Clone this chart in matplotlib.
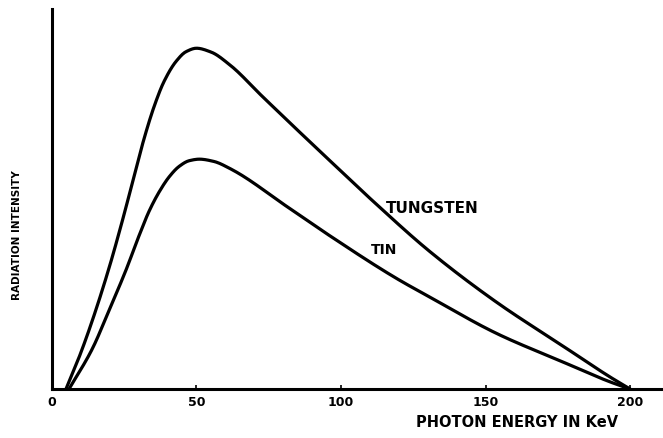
import matplotlib
matplotlib.use("Agg")
import matplotlib.pyplot as plt
import numpy as np

energy_w = [4.85, 9.4, 13.9, 19.8, 24.6, 28.4, 31.9, 35.4, 38.8, 43, 46.4, 50, 55, 61.4, 72.8, 84.6, 96, 111, 130.7, 153.9, 176.8, 193, 200]
tungsten = [0, 8.4, 17.9, 32.0, 45.0, 56.0, 66.0, 74.5, 81.0, 86.3, 88.8, 89.7, 88.7, 85.4, 77.0, 68.4, 60.2, 49.5, 36.2, 22.8, 11.3, 3.2, 0]

energy_t = [5.9, 13.9, 19.8, 25.6, 30.2, 33.6, 37.1, 40.6, 44, 47.5, 51, 56, 61.4, 82.1, 96.2, 119, 130.7, 153.9, 176.8, 193, 200]
tin = [0, 10.5, 20.8, 31.3, 40.5, 46.8, 51.9, 55.9, 58.6, 60.1, 60.5, 59.9, 58.1, 47.6, 40.3, 29.2, 24.2, 14.6, 7.1, 1.9, 0]

xticks = [0, 50, 100, 150, 200]
xticklabels = ["0", "50", "100", "150", "200"]


def smooth(x, y, n=500):
    x = np.asarray(x, float)
    y = np.asarray(y, float)
    h = np.diff(x)
    d = np.diff(y) / h
    m = np.zeros_like(y)
    m[0] = d[0]
    m[-1] = d[-1]
    for i in range(1, len(x) - 1):
        if d[i - 1] * d[i] <= 0:
            m[i] = 0
        else:
            w1 = 2 * h[i] + h[i - 1]
            w2 = h[i] + 2 * h[i - 1]
            m[i] = (w1 + w2) / (w1 / d[i - 1] + w2 / d[i])
    xs = np.linspace(x[0], x[-1], n)
    ys = np.empty_like(xs)
    for j, xv in enumerate(xs):
        i = min(max(np.searchsorted(x, xv) - 1, 0), len(x) - 2)
        t = (xv - x[i]) / h[i]
        h00 = 2 * t**3 - 3 * t**2 + 1
        h10 = t**3 - 2 * t**2 + t
        h01 = -2 * t**3 + 3 * t**2
        h11 = t**3 - t**2
        ys[j] = h00 * y[i] + h10 * h[i] * m[i] + h01 * y[i + 1] + h11 * h[i] * m[i + 1]
    return xs, ys


fig = plt.figure(figsize=(6.63, 4.39), dpi=100)
ax = fig.add_axes([0.0784, 0.1116, 0.9216, 0.8654])

xw, yw = smooth(energy_w, tungsten)
xt, yt = smooth(energy_t, tin)
ax.plot(xw, yw, color="black", lw=2.3, solid_capstyle="round")
ax.plot(xt, yt, color="black", lw=2.3, solid_capstyle="round")

ax.set_xlim(0, 211.4)
ax.set_ylim(0, 100)

for s in ["top", "right"]:
    ax.spines[s].set_visible(False)
ax.spines["left"].set_linewidth(2.2)
ax.spines["bottom"].set_linewidth(2.2)

ax.set_yticks([])
ax.set_xticks(xticks)
ax.set_xticklabels(xticklabels, fontsize=9, fontweight="bold")
ax.tick_params(axis="x", direction="in", length=3, width=1.2, pad=4)

ax.text(131.7, 47.9, "TUNGSTEN", fontsize=11, fontweight="bold", ha="center", va="center")
ax.text(115, 36.8, "TIN", fontsize=10, fontweight="bold", ha="center", va="center")

fig.text(517 / 663, 1 - 423 / 439, "PHOTON ENERGY IN KeV", fontsize=10.5, fontweight="bold",
         ha="center", va="center")
fig.text(17 / 663, 1 - 235 / 439, "RADIATION INTENSITY", fontsize=7.5, fontweight="bold",
         ha="center", va="center", rotation=90)

fig.savefig("out.png", dpi=100, facecolor="white")
